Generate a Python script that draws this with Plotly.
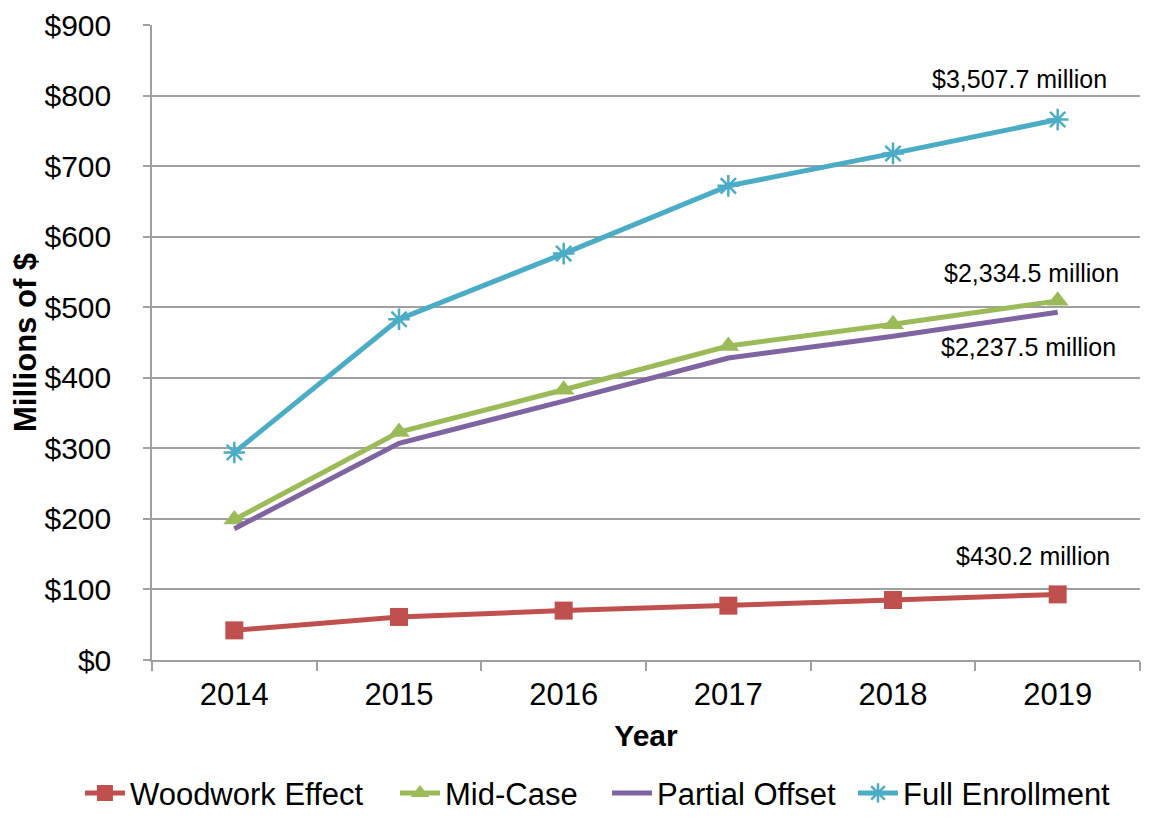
import plotly.graph_objects as go

years = ["2014", "2015", "2016", "2017", "2018", "2019"]
woodwork = [42, 61, 70, 77, 85, 93]
mid_case = [199, 323, 383, 445, 476, 509]
partial = [186, 307, 367, 428, 459, 493]
full = [294, 483, 576, 672, 718, 766]

labels_text = ["$3,507.7 million", "$2,334.5 million", "$2,237.5 million", "$430.2 million"]
labels_y = [823, 548, 444, 147]
labels_shift = [-38, -26, -29, -25]

tick_vals = [0, 100, 200, 300, 400, 500, 600, 700, 800, 900]
tick_text = ["$0", "$100", "$200", "$300", "$400", "$500", "$600", "$700", "$800", "$900"]

FONT = "Liberation Sans, Arial, sans-serif"

fig = go.Figure()
fig.add_trace(go.Scatter(x=years, y=woodwork, name="Woodwork Effect", mode="lines+markers",
                         legend="legend",
                         line=dict(color="#C0504D", width=5),
                         marker=dict(symbol="square", size=18, color="#C0504D")))
fig.add_trace(go.Scatter(x=years, y=mid_case, name="Mid-Case", mode="lines+markers",
                         legend="legend2",
                         line=dict(color="#9BBB59", width=5),
                         marker=dict(symbol="triangle-up", size=19, color="#9BBB59")))
fig.add_trace(go.Scatter(x=years, y=partial, name="Partial Offset", mode="lines",
                         legend="legend3",
                         line=dict(color="#8064A2", width=5)))
fig.add_trace(go.Scatter(x=years, y=full, name="Full Enrollment", mode="lines+markers",
                         legend="legend4",
                         line=dict(color="#4BACC6", width=5),
                         marker=dict(symbol="asterisk-open", size=18,
                                     line=dict(color="#4BACC6", width=2.5))))

last_idx = len(years) - 1
for t, yv, sh in zip(labels_text, labels_y, labels_shift):
    fig.add_annotation(x=last_idx, y=yv, xref="x", yref="y", text=t, showarrow=False,
                       xshift=sh, font=dict(size=25, color="black", family=FONT))

def leg(xpos):
    return dict(orientation="h", xref="container", yref="container",
                x=xpos, xanchor="left", y=0.0245, yanchor="middle",
                font=dict(size=31, family=FONT), itemwidth=40,
                bgcolor="rgba(0,0,0,0)")

fig.update_layout(
    width=1133, height=805,
    margin=dict(l=144, r=1, t=17, b=153),
    plot_bgcolor="white", paper_bgcolor="white",
    font=dict(family=FONT, size=30, color="black"),
    showlegend=True,
    legend=leg(0.0635),
    legend2=leg(0.3416),
    legend3=leg(0.5287),
    legend4=leg(0.7458),
    xaxis=dict(type="category", tickson="boundaries", ticks="outside", ticklen=9,
               tickcolor="#A0A0A0", tickwidth=1.5, showline=True, linecolor="#A0A0A0",
               linewidth=1.5, showgrid=False, tickfont=dict(size=31), automargin=False,
               ticklabelstandoff=6,
               title=dict(text="<b>Year</b>", font=dict(size=30), standoff=14),
               range=[-0.5, 5.5]),
    yaxis=dict(range=[0, 900], tickvals=tick_vals, ticktext=tick_text, ticks="outside",
               ticklen=7, tickcolor="#A0A0A0", tickwidth=1.5, showline=True,
               linecolor="#A0A0A0", linewidth=1.5, showgrid=True, gridcolor="#A0A0A0",
               gridwidth=1.5, zeroline=False, tickfont=dict(size=30), automargin=False,
               ticklabelstandoff=26, ticklabeloverflow="allow",
               title=dict(text="<b>Millions of $</b>", font=dict(size=31), standoff=4)),
)

fig.write_html("out.html")
